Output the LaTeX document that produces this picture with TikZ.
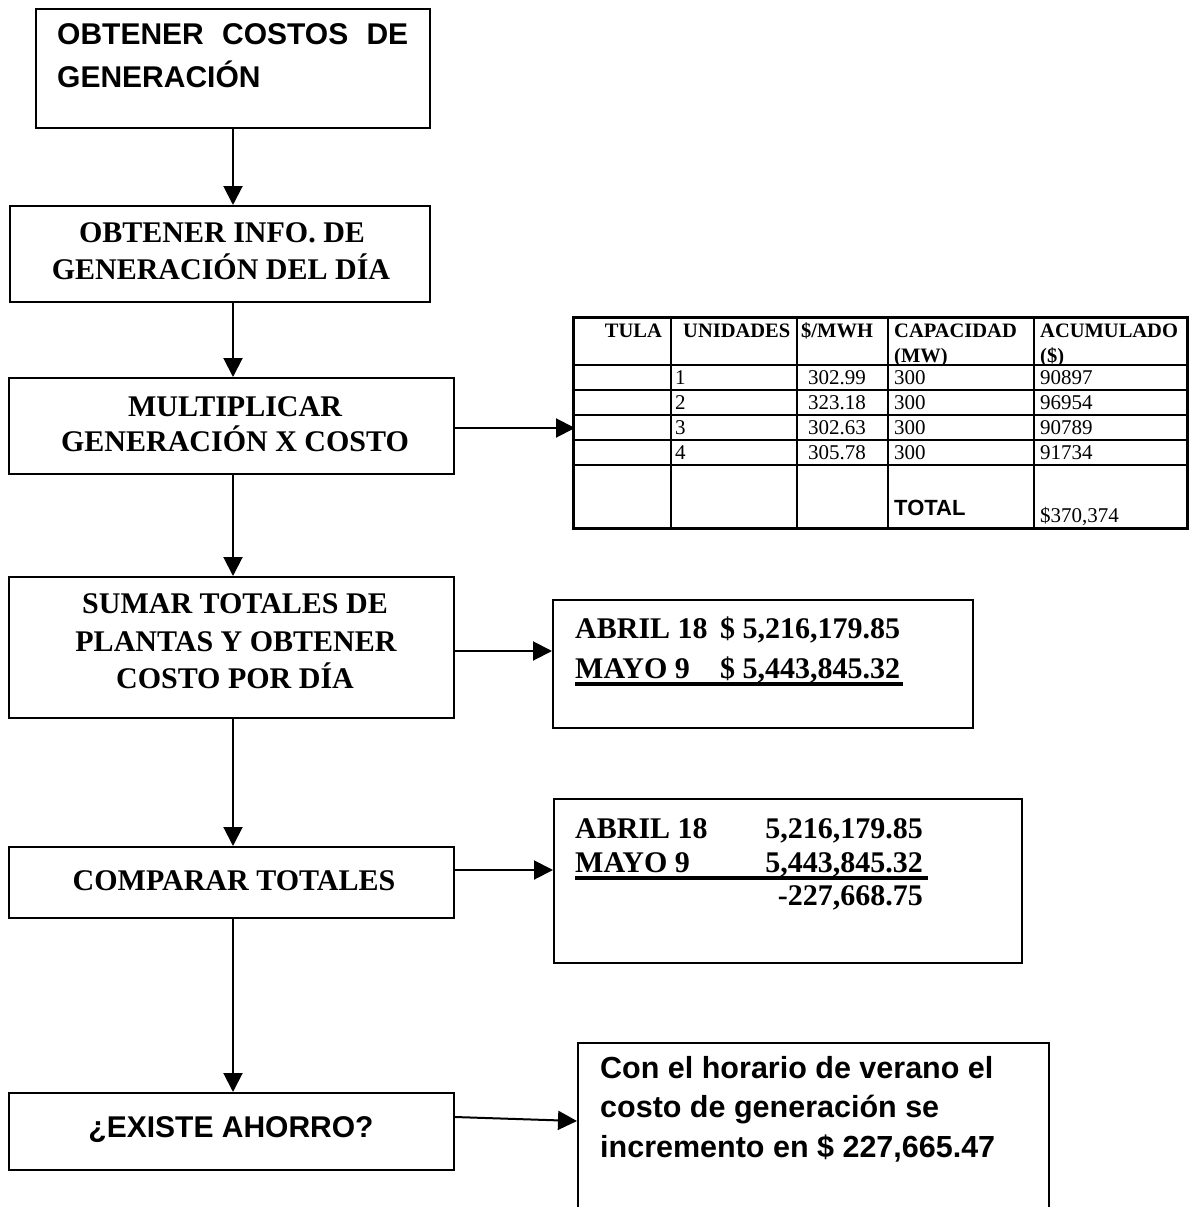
\documentclass[tikz,border=0pt]{standalone}
\usepackage{fontspec}
\setmainfont{Liberation Serif}
\newfontfamily\arialf{Liberation Sans}
\usetikzlibrary{arrows.meta}
\tikzset{
  box/.style={draw, line width=2pt, inner sep=0pt, anchor=north west},
  arr/.style={line width=2pt, -{Triangle[length=19pt,width=19pt]}},
  tb/.style={font=\fontsize{30}{36}\selectfont\bfseries, inner sep=0pt, anchor=base},
  ab/.style={font=\arialf\fontsize{30}{36}\selectfont\bfseries, inner sep=0pt, anchor=base},
  fb/.style={font=\arialf\fontsize{30.5}{36}\selectfont\bfseries, inner sep=0pt, anchor=base west},
  th/.style={font=\fontsize{20.5}{24}\selectfont\bfseries, inner sep=0pt, anchor=base west},
  td/.style={font=\fontsize{21}{24}\selectfont, inner sep=0pt, anchor=base west},
  gridline/.style={line width=2.8pt},
  uline/.style={line width=4pt},
}
\begin{document}
\begin{tikzpicture}[x=1pt,y=-1pt]
\useasboundingbox (0,0) rectangle (1190,1207);
\clip (0,0) rectangle (1190,1207);
\fill[white] (0,0) rectangle (1190,1207);

% ---- flow boxes ----
\node[box, minimum width=394pt, minimum height=119pt] (b1) at (35,8) {};
\node[box, minimum width=420pt, minimum height=96pt]  (b2) at (9,205) {};
\node[box, minimum width=445pt, minimum height=96pt]  (b3) at (8,377) {};
\node[box, minimum width=445pt, minimum height=141pt] (b4) at (8,576) {};
\node[box, minimum width=445pt, minimum height=71pt]  (b5) at (8,846) {};
\node[box, minimum width=445pt, minimum height=77pt]  (b6) at (8,1092) {};
\node[box, minimum width=420pt, minimum height=128pt] (r1) at (552,599) {};
\node[box, minimum width=468pt, minimum height=164pt] (r2) at (553,798) {};
\node[box, minimum width=471pt, minimum height=190pt] (r3) at (577,1042) {};
\node[box, line width=2.8pt, minimum width=614pt, minimum height=211pt] (tbl) at (572,316) {};

% ---- box texts ----
\node[ab, anchor=base west] (t1a) at (57,45) {\makebox[351pt][s]{OBTENER COSTOS DE}};
\node[ab, anchor=base west] (t1b) at (57,87) {GENERACIÓN};
\node[tb] (t2a) at (222,242) {OBTENER INFO. DE};
\node[tb] (t2b) at (221,279) {GENERACIÓN DEL DÍA};
\node[tb] (t3a) at (235,416) {MULTIPLICAR};
\node[tb] (t3b) at (235,451) {GENERACIÓN X COSTO};
\node[tb] (t4a) at (235,613) {SUMAR TOTALES DE};
\node[tb] (t4b) at (236,651) {PLANTAS Y OBTENER};
\node[tb] (t4c) at (235,688) {COSTO POR DÍA};
\node[tb] (t5) at (234,890) {COMPARAR TOTALES};
\node[ab] (t6) at (231,1137) {¿EXISTE AHORRO?};

% ---- result box 1 ----
\node[tb, anchor=base west] (r1a) at (575,638) {ABRIL 18};
\node[tb, anchor=base west] (r1b) at (720,638) {\$ 5,216,179.85};
\node[tb, anchor=base west] (r1c) at (575,678) {MAYO 9};
\node[tb, anchor=base west] (r1d) at (720,678) {\$ 5,443,845.32};
\draw[uline] (575,684) -- (903,684);

% ---- result box 2 ----
\node[tb, anchor=base west] (r2a) at (575,838) {ABRIL 18};
\node[tb, anchor=base east] (r2b) at (923,838) {5,216,179.85};
\node[tb, anchor=base west] (r2c) at (575,872) {MAYO 9};
\node[tb, anchor=base east] (r2d) at (923,872) {5,443,845.32};
\draw[uline] (575,877.5) -- (928,877.5);
\node[tb, anchor=base east] (r2e) at (923,905) {-227,668.75};

% ---- final box ----
\node[fb] (r3a) at (600,1078) {Con el horario de verano el};
\node[fb] (r3b) at (600,1117) {costo de generación se};
\node[fb] (r3c) at (600,1157) {incremento en \$ 227,665.47};

% ---- table grid ----
\foreach \xx in {671,797,888,1034} \draw[gridline] (\xx,316) -- (\xx,527);
\foreach \yy in {365,390,415,440,465} \draw[gridline] (572,\yy) -- (1186,\yy);

% ---- table texts ----
\node[th, anchor=base east] (h1) at (662,337) {TULA};
\node[th] (h2) at (683,337) {UNIDADES};
\node[th] (h3) at (801,337) {\$/MWH};
\node[th] (h4) at (894,337) {CAPACIDAD};
\node[th] (h4b) at (894,362) {(MW)};
\node[th] (h5) at (1040,337) {ACUMULADO};
\node[th] (h5b) at (1040,362) {(\$)};
\foreach \n/\yy/\c/\t in {1/384/302.99/90897, 2/409/323.18/96954, 3/434/302.63/90789, 4/459/305.78/91734}{
  \node[td] at (675,\yy) {\n};
  \node[td] at (808,\yy) {\c};
  \node[td] at (894,\yy) {300};
  \node[td] at (1040,\yy) {\t};
}
\node[font=\arialf\fontsize{22}{26}\selectfont\bfseries, inner sep=0pt, anchor=base west] (tot) at (894,515) {TOTAL};
\node[td] (totv) at (1040,522) {\$370,374};

% ---- connectors ----
\coordinate (ax) at (233,0);
\draw[arr] (b1.south -| ax) -- (b2.north -| ax);
\draw[arr] (b2.south -| ax) -- (b3.north -| ax);
\draw[arr] (b3.south -| ax) -- (b4.north -| ax);
\draw[arr] (b4.south -| ax) -- (b5.north -| ax);
\draw[arr] (b5.south -| ax) -- (b6.north -| ax);
\draw[arr] ([yshift=-2pt]b3.east) -- ([yshift=-2pt,xshift=3pt]b3.east -| tbl.west);
\draw[arr] ([yshift=-3.5pt]b4.east) -- ([yshift=-3.5pt]b4.east -| r1.west);
\draw[arr] ([yshift=12.5pt]b5.east) -- ([yshift=12.5pt]b5.east -| r2.west);
\draw[arr] ([yshift=14.5pt]b6.east) -- ([yshift=10.5pt]b6.east -| r3.west);
\end{tikzpicture}
\end{document}
